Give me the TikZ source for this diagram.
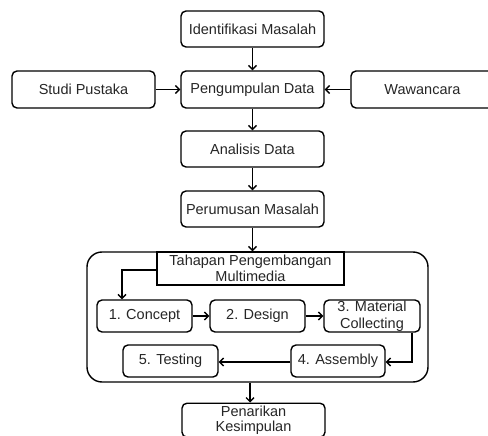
\documentclass[tikz,border=0pt]{standalone}
\usepackage{fontspec}
\setmainfont{Liberation Sans}
\usetikzlibrary{arrows.meta,positioning}
\begin{document}
\begin{tikzpicture}[x=1pt,y=-1pt,
  every node/.style={font=\fontsize{14.5}{16.5}\selectfont, text=black!85, align=center, inner sep=0pt},
  rbox/.style={draw, line width=1.4pt, rounded corners=5pt, minimum width=143pt, minimum height=36pt},
  sbox/.style={draw, line width=1.4pt, rounded corners=5pt, minimum width=95pt, minimum height=32pt},
  arr/.style={line width=1.4pt, -{Straight Barb[length=4pt,width=8pt,line width=1.4pt]}}]
\useasboundingbox (0,0) rectangle (488,436);
\clip (0,0) rectangle (488,436);
\fill[white] (0,0) rectangle (488,436);
\node[rbox] (ident) at (252.5,29) {Identifikasi Masalah};
\node[rbox, minimum height=37pt] (pengum) at (252.5,89.5) {Pengumpulan Data};
\node[rbox, minimum height=37pt] (studi) at (83.5,89.5) {Studi Pustaka};
\node[rbox, minimum height=37pt] (wawan) at (422.5,89.5) {Wawancara};
\node[rbox] (analisis) at (252.5,149) {Analisis Data};
\node[rbox] (perumusan) at (252.5,209) {Perumusan Masalah};
\node[draw, line width=1.4pt, rounded corners=15pt, minimum width=341pt, minimum height=130pt] (big) at (257.5,317) {};
\node[draw, line width=1.4pt, fill=white, minimum width=187pt, minimum height=33pt] (tahap) at (250.5,268.5) {Tahapan Pengembangan\\Multimedia};
\node[sbox] (concept) at (144.5,316) {1. Concept};
\node[sbox] (design) at (257.5,316) {2. Design};
\node[sbox, minimum width=96pt] (material) at (372,316) {3. Material\\Collecting};
\node[sbox, minimum width=94pt] (assembly) at (338,361) {4. Assembly};
\node[sbox] (testing) at (170.5,361) {5. Testing};
\node[draw, line width=1.4pt, rounded corners=5pt, minimum width=143pt, inner ysep=2.5pt, anchor=north, font=\fontsize{14.5}{15.5}\selectfont] (penarikan) at (253.5,402.5) {Penarikan\\Kesimpulan};
\draw[arr] (ident) -- (pengum);
\draw[arr] (studi) -- (pengum);
\draw[arr] (wawan) -- (pengum);
\draw[arr] (pengum) -- (analisis);
\draw[arr] (analisis) -- (perumusan);
\draw[arr] (perumusan.south) -- (perumusan.south |- big.north);
\coordinate (tl) at (122,270);
\draw[arr] (tahap.west |- tl) -- (tl) -- (tl |- concept.north);
\draw[arr] (concept) -- (design);
\draw[arr] (design) -- (material);
\coordinate (mc) at (412,362);
\draw[arr] (mc |- material.south) -- (mc) -- (assembly.east |- mc);
\draw[arr] (assembly.west |- mc) -- (testing.east |- mc);
\coordinate (bp) at (250,0);
\draw[arr] (bp |- big.south) -- (bp |- penarikan.north);
\end{tikzpicture}
\end{document}
